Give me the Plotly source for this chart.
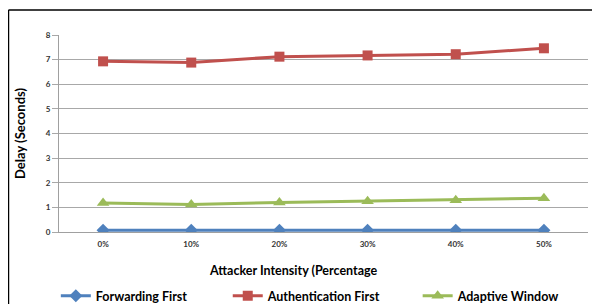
import plotly.graph_objects as go

categories = ["0%", "10%", "20%", "30%", "40%", "50%"]
forwarding_first = [0.07, 0.07, 0.07, 0.07, 0.07, 0.07]
authentication_first = [6.93, 6.88, 7.12, 7.17, 7.22, 7.46]
adaptive_window = [1.18, 1.12, 1.20, 1.25, 1.29, 1.37]
y_ticks = [0, 1, 2, 3, 4, 5, 6, 7, 8]

FONT = "Lato"

fig = go.Figure()
fig.add_trace(go.Scatter(x=categories, y=forwarding_first, name="Forwarding First",
                         mode="lines+markers", legend="legend",
                         line=dict(color="#4F81BD", width=3),
                         marker=dict(symbol="diamond", size=10, color="#4F81BD")))
fig.add_trace(go.Scatter(x=categories, y=authentication_first, name="Authentication First",
                         mode="lines+markers", legend="legend2",
                         line=dict(color="#C0504D", width=3),
                         marker=dict(symbol="square", size=10, color="#C0504D")))
fig.add_trace(go.Scatter(x=categories, y=adaptive_window, name="Adaptive Window",
                         mode="lines+markers", legend="legend3",
                         line=dict(color="#9BBB59", width=3),
                         marker=dict(symbol="triangle-up", size=11, color="#9BBB59")))

leg_common = dict(orientation="h", yanchor="middle", y=-0.325, bgcolor="rgba(0,0,0,0)",
                  font=dict(family=FONT, size=12.5, color="#000", weight="bold"),
                  itemwidth=30, xanchor="left")

fig.update_layout(
    width=592, height=320,
    margin=dict(l=51, r=12, t=27, b=96),
    paper_bgcolor="white", plot_bgcolor="white",
    font=dict(family=FONT, color="#000000"),
    showlegend=True,
    legend=dict(leg_common, x=-0.006),
    legend2=dict(leg_common, x=0.319),
    legend3=dict(leg_common, x=0.678),
    xaxis=dict(type="category", range=[-0.5, 5.5], showgrid=False, automargin=False,
               showline=True, linecolor="#A0A0A0", linewidth=1,
               ticks="outside", ticklen=4, tickcolor="rgba(0,0,0,0)",
               tickfont=dict(family=FONT, size=8, color="#333", weight="bold")),
    yaxis=dict(range=[0, 8], tickvals=y_ticks, showgrid=True, gridcolor="#A8A8A8",
               gridwidth=1, showline=True, linecolor="#A0A0A0", linewidth=1, automargin=False,
               ticks="outside", ticklen=6, tickcolor="#A8A8A8",
               tickfont=dict(family=FONT, size=8, color="#333", weight="bold"), zeroline=False,
               title=dict(text="<b>Delay (Seconds)</b>",
                          font=dict(family=FONT, size=13, color="#000"), standoff=17)),
    annotations=[
        dict(text="<b>Attacker Intensity (Percentage</b>", xref="paper", yref="paper",
             x=0.444, y=-0.193, xanchor="center", yanchor="middle", showarrow=False,
             font=dict(family=FONT, size=12.5, color="#000")),
    ],
    shapes=[
        dict(type="line", xref="paper", yref="paper", x0=-0.0955, x1=1.05, y0=1.127, y1=1.127,
             line=dict(color="#000", width=1.5)),
        dict(type="line", xref="paper", yref="paper", x0=-0.0955, x1=-0.0955, y0=1.127, y1=-0.5,
             line=dict(color="#000", width=1.5)),
    ],
)

fig.write_html("out.html")
